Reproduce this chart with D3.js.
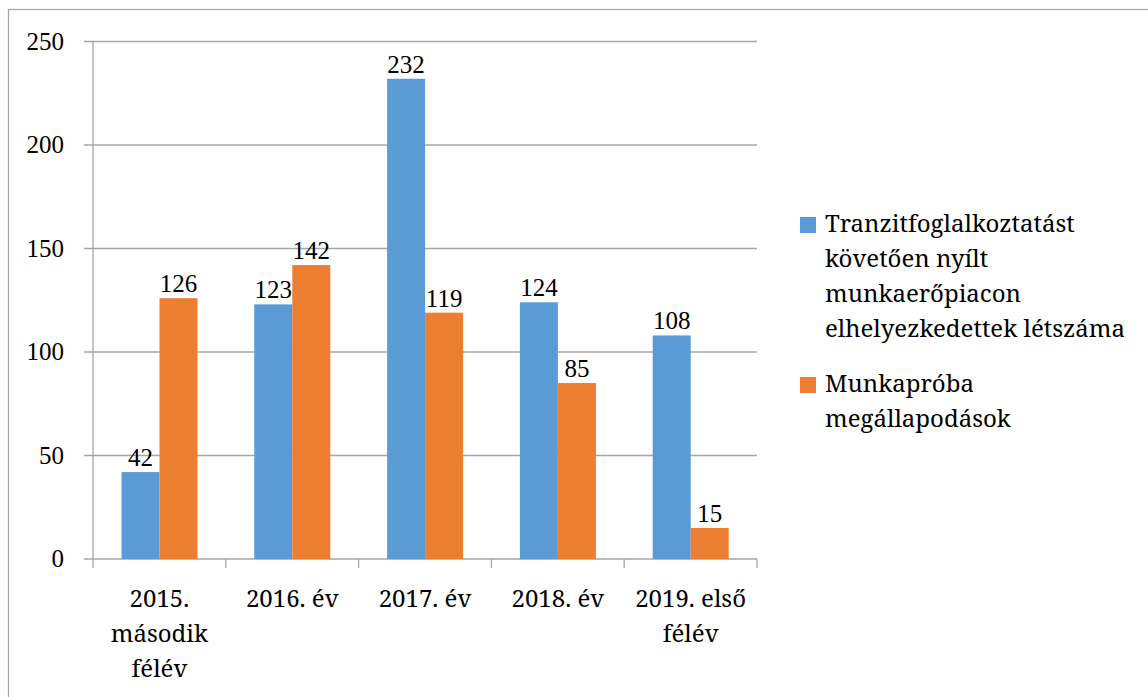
<!DOCTYPE html>
<html>
<head>
<meta charset="utf-8">
<script src="https://cdn.jsdelivr.net/npm/d3@7"></script>
<style>
  body { margin: 0; background: #fff; }
  svg { display: block; }
</style>
</head>
<body>
<svg id="chart" width="1148" height="697"></svg>
<script>
(function(){
    "use strict";

    // chart data
    var categories = ["2015. második félév", "2016. év", "2017. év", "2018. év", "2019. első félév"];
    var categoryLines = [["2015.", "második", "félév"], ["2016. év"], ["2017. év"], ["2018. év"], ["2019. első", "félév"]];
    var seriesNames = ["Tranzitfoglalkoztatást követően nyílt munkaerőpiacon elhelyezkedettek létszáma", "Munkapróba megállapodások"];
    var legendLines = [["Tranzitfoglalkoztatást", "követően nyílt", "munkaerőpiacon", "elhelyezkedettek létszáma"], ["Munkapróba", "megállapodások"]];
    var tranzitValues = [42, 123, 232, 124, 108];
    var munkaprobaValues = [126, 142, 119, 85, 15];
    var yTicks = [0, 50, 100, 150, 200, 250];
    var colors = ["#5b9bd5", "#ed7d31"];

    var numFont = "'Liberation Serif', serif";
    var labelFont = "'Noto Serif', serif";
    var gridColor = "#a6a6a6";
    var left = 93, right = 757, top = 41.5, bottom = 559;

    var svg = d3.select("#chart");

    // outer frame
    svg.append("rect")
        .attr("x", 8.5).attr("y", 9.5)
        .attr("width", 1160).attr("height", 700)
        .attr("fill", "none")
        .attr("stroke", "#a6a6a6")
        .attr("stroke-width", 1.3);

    var x = d3.scaleBand().domain(categories).range([left, right]).padding(0);
    var xInner = d3.scaleBand().domain([0, 1]).range([28.5, 104.5]);
    var y = d3.scaleLinear().domain([0, 250]).range([bottom, top]);

    // horizontal gridlines + y tick marks
    svg.append("g").selectAll("line")
        .data(yTicks)
        .enter().append("line")
        .attr("x1", left - 9).attr("x2", right)
        .attr("y1", function(d){ return y(d); })
        .attr("y2", function(d){ return y(d); })
        .attr("stroke", gridColor)
        .attr("stroke-width", 1.3);

    // y tick labels
    svg.append("g").selectAll("text")
        .data(yTicks)
        .enter().append("text")
        .attr("x", 64)
        .attr("y", function(d){ return y(d) + 8; })
        .attr("text-anchor", "end")
        .style("font-family", numFont)
        .style("font-size", "25px")
        .text(function(d){ return d; });

    // y axis line
    svg.append("line")
        .attr("x1", left).attr("x2", left)
        .attr("y1", top).attr("y2", bottom)
        .attr("stroke", gridColor).attr("stroke-width", 1.3);

    // category separator ticks
    var sepPositions = categories.map(function(c){ return x(c); }).concat([right]);
    svg.append("g").selectAll("line")
        .data(sepPositions)
        .enter().append("line")
        .attr("x1", function(d){ return d; })
        .attr("x2", function(d){ return d; })
        .attr("y1", bottom).attr("y2", bottom + 9)
        .attr("stroke", gridColor).attr("stroke-width", 1.3);

    // bars
    var rows = categories.map(function(c, i){
        return { cat: c, values: [tranzitValues[i], munkaprobaValues[i]] };
    });

    var groups = svg.append("g").selectAll("g")
        .data(rows)
        .enter().append("g")
        .attr("transform", function(d){ return "translate(" + x(d.cat) + ",0)"; });

    groups.selectAll("rect")
        .data(function(d){ return d.values; })
        .enter().append("rect")
        .attr("x", function(d, i){ return xInner(i); })
        .attr("width", xInner.bandwidth())
        .attr("y", function(d){ return y(d); })
        .attr("height", function(d){ return bottom - y(d); })
        .attr("fill", function(d, i){ return colors[i]; });

    groups.selectAll("text")
        .data(function(d){ return d.values; })
        .enter().append("text")
        .attr("x", function(d, i){ return xInner(i) + xInner.bandwidth() / 2; })
        .attr("y", function(d){ return y(d) - 6; })
        .attr("text-anchor", "middle")
        .style("font-family", numFont)
        .style("font-size", "25px")
        .text(function(d){ return d; });

    // category labels
    var catLabels = svg.append("g").selectAll("text")
        .data(categories)
        .enter().append("text")
        .attr("text-anchor", "middle")
        .style("font-family", labelFont)
        .style("font-size", "24px")
        .attr("transform", function(d){ return "translate(" + (x(d) + x.bandwidth() / 2) + ",607)"; });

    catLabels.selectAll("tspan")
        .data(function(d, i){ return categoryLines[i]; })
        .enter().append("tspan")
        .attr("x", 0)
        .attr("y", function(d, i){ return i * 35; })
        .text(function(d){ return d; });

    // legend
    var legendTop = [232, 392];
    var legend = svg.append("g").selectAll("g")
        .data(seriesNames)
        .enter().append("g");

    legend.append("rect")
        .attr("x", 800)
        .attr("y", function(d, i){ return legendTop[i] - 15; })
        .attr("width", 16).attr("height", 16)
        .attr("fill", function(d, i){ return colors[i]; });

    var legendText = legend.append("text")
        .style("font-family", labelFont)
        .style("font-size", "24px")
        .attr("transform", function(d, i){ return "translate(825," + legendTop[i] + ")"; });

    legendText.selectAll("tspan")
        .data(function(d, i){ return legendLines[i]; })
        .enter().append("tspan")
        .attr("x", 0)
        .attr("y", function(d, i){ return i * 35; })
        .text(function(d){ return d; });
}());
</script>
</body>
</html>
